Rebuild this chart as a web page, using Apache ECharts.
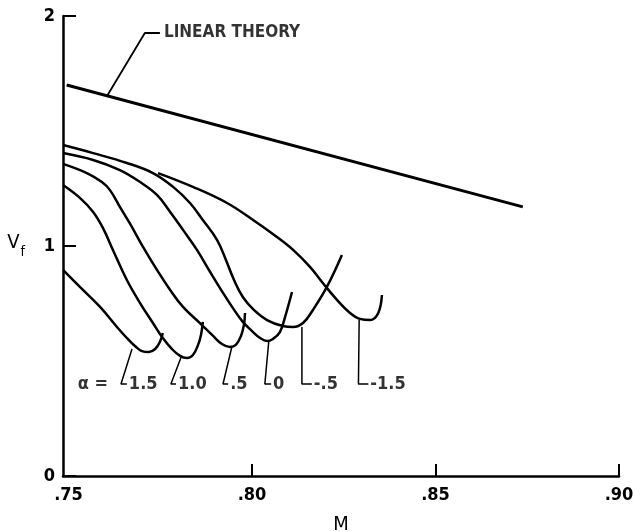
<!DOCTYPE html>
<html>
<head>
<meta charset="utf-8">
<script src="https://cdn.jsdelivr.net/npm/echarts@6/dist/echarts.min.js"></script>
<style>
  html, body { margin: 0; padding: 0; background: #fff; }
  #chart { width: 633px; height: 532px; }
</style>
</head>
<body>
<div id="chart"></div>
<script>
// flutter speed V_f against Mach number M
const linearTheory = [[0.7495, 1.70], [0.8738, 1.17]]

const alpha15 = [[0.7485, 0.896], [0.7531, 0.822], [0.7586, 0.735], [0.7632, 0.648], [0.7659, 0.600],
  [0.7681, 0.565], [0.7700, 0.543], [0.7719, 0.539], [0.7736, 0.552], [0.7749, 0.583], [0.7757, 0.622]]
const alpha10 = [[0.7485, 1.265], [0.7531, 1.209], [0.7567, 1.148], [0.7594, 1.078], [0.7621, 0.983],
  [0.7659, 0.852], [0.7695, 0.752], [0.7730, 0.665], [0.7757, 0.600], [0.7782, 0.552], [0.7804, 0.522],
  [0.7823, 0.513], [0.7839, 0.526], [0.7853, 0.570], [0.7861, 0.613], [0.7866, 0.670]]
const alpha05 = [[0.7485, 1.357], [0.7550, 1.317], [0.7591, 1.278], [0.7613, 1.243], [0.7640, 1.170],
  [0.7668, 1.096], [0.7703, 0.996], [0.7741, 0.896], [0.7777, 0.809], [0.7812, 0.735], [0.7858, 0.665],
  [0.7894, 0.609], [0.7918, 0.574], [0.7940, 0.561], [0.7956, 0.570], [0.7970, 0.609], [0.7978, 0.657],
  [0.7981, 0.709]]
const alpha00 = [[0.7485, 1.404], [0.7567, 1.374], [0.7640, 1.330], [0.7695, 1.278], [0.7741, 1.222],
  [0.7777, 1.148], [0.7812, 1.070], [0.7850, 0.983], [0.7886, 0.887], [0.7921, 0.796], [0.7948, 0.730],
  [0.7975, 0.670], [0.8000, 0.630], [0.8022, 0.600], [0.8041, 0.587], [0.8057, 0.596], [0.8076, 0.626],
  [0.8090, 0.691], [0.8109, 0.800]]
const alphaM05 = [[0.7485, 1.439], [0.7567, 1.404], [0.7659, 1.361], [0.7730, 1.317], [0.7785, 1.257],
  [0.7831, 1.187], [0.7866, 1.113], [0.7905, 1.026], [0.7929, 0.939], [0.7951, 0.852], [0.7975, 0.778],
  [0.8005, 0.722], [0.8041, 0.678], [0.8084, 0.652], [0.8112, 0.648], [0.8139, 0.665], [0.8166, 0.722],
  [0.8204, 0.822], [0.8245, 0.961]]
const alphaM15 = [[0.7744, 1.317], [0.7839, 1.257], [0.7932, 1.187], [0.8003, 1.113], [0.8068, 1.039],
  [0.8112, 0.983], [0.8158, 0.909], [0.8193, 0.839], [0.8232, 0.765], [0.8267, 0.709], [0.8294, 0.683],
  [0.8322, 0.678], [0.8344, 0.709], [0.8354, 0.787]]

const alphaCurves = [alpha15, alpha10, alpha05, alpha00, alphaM05, alphaM15]
const alphaLabels = ['1.5', '1.0', '.5', '0', '-.5', '-1.5']

// leader lines from each curve's minimum down to its label
const leaderM = [[0.7673, 0.7643, 0.7659], [0.7807, 0.7779, 0.7793], [0.7945, 0.7921, 0.7935],
  [0.8046, 0.8035, 0.8052], [0.8136, 0.8136, 0.8163], [0.8292, 0.8290, 0.8317]]
const leaderV = [[0.552, 0.40, 0.40], [0.517, 0.40, 0.40], [0.561, 0.40, 0.40],
  [0.591, 0.40, 0.40], [0.648, 0.40, 0.40], [0.678, 0.40, 0.40]]
const alphaTag = [0.7520, 0.40]

const linearLeader = [[0.7605, 1.652], [0.7708, 1.926], [0.7749, 1.926]]

const xTicks = [0.80, 0.85, 0.90]
const xLabels = [0.75, 0.80, 0.85, 0.90]

const font = "'Liberation Sans Narrow', 'DejaVu Sans Condensed', 'Roboto', sans-serif"

const chart = echarts.init(document.getElementById('chart'))

const series = []
alphaCurves.forEach((pts, i) => {
  series.push({
    name: 'alpha ' + alphaLabels[i],
    type: 'line',
    data: pts,
    smooth: 0.4,
    symbol: 'none',
    lineStyle: { color: '#000', width: 2.5 },
    z: 3
  })
  series.push({
    type: 'line',
    data: leaderM[i].map((m, k) => [m, leaderV[i][k]]),
    symbol: 'none',
    lineStyle: { color: '#000', width: 1.5 },
    z: 2
  })
})
series.push({
  name: 'LINEAR THEORY',
  type: 'line',
  data: linearTheory,
  symbol: 'none',
  lineStyle: { color: '#000', width: 3 }
})
series.push({
  type: 'line',
  data: linearLeader,
  symbol: 'none',
  lineStyle: { color: '#000', width: 1.8 }
})
// text labels, hung on the leader ends
const textPoints = leaderM.map((m, i) => ({ name: alphaLabels[i], value: [m[2], leaderV[i][2]] }))
textPoints.push({ name: 'α =', value: alphaTag })
textPoints.push({ name: 'LINEAR THEORY', value: linearLeader[2], label: { fontSize: 17, distance: 4 } })
series.push({
  type: 'scatter',
  data: textPoints,
  symbolSize: 0,
  silent: true,
  label: {
    show: true,
    position: 'right',
    distance: 2,
    formatter: p => p.name,
    color: '#000',
    fontFamily: font,
    fontWeight: 'bold',
    fontSize: 18
  }
})

chart.setOption({
  animation: false,
  backgroundColor: '#fff',
  grid: { left: 63, right: 14, top: 16, bottom: 56, outerBoundsMode: 'none' },
  xAxis: {
    type: 'value',
    min: 0.7485,
    max: 0.90,
    name: 'M',
    nameLocation: 'middle',
    nameGap: 39,
    nameTextStyle: { color: '#000', fontFamily: font, fontSize: 20 },
    axisLine: { lineStyle: { color: '#000', width: 2.5 } },
    axisTick: { inside: true, length: 12, customValues: xTicks, lineStyle: { color: '#000', width: 2 } },
    axisLabel: {
      customValues: xLabels,
      formatter: v => '.' + Math.round(v * 100),
      margin: 10,
      color: '#000',
      fontFamily: font,
      fontWeight: 'bold',
      fontSize: 18
    },
    splitLine: { show: false }
  },
  yAxis: {
    type: 'value',
    min: 0,
    max: 2,
    interval: 1,
    name: '{v|V}{f|f}',
    nameLocation: 'middle',
    nameRotate: 0,
    nameGap: 38,
    nameTextStyle: {
      color: '#000',
      fontFamily: font,
      rich: {
        v: { fontSize: 20, fontFamily: font, color: '#000', padding: [0, 0, 6, 0] },
        f: { fontSize: 14, fontFamily: font, color: '#000', padding: [12, 0, 0, 1] }
      }
    },
    axisLine: { show: true, lineStyle: { color: '#000', width: 2.5 } },
    axisTick: { show: true, inside: true, length: 13, lineStyle: { color: '#000', width: 2 } },
    axisLabel: { margin: 8, color: '#000', fontFamily: font, fontWeight: 'bold', fontSize: 18 },
    splitLine: { show: false }
  },
  series: series
})
</script>
</body>
</html>
